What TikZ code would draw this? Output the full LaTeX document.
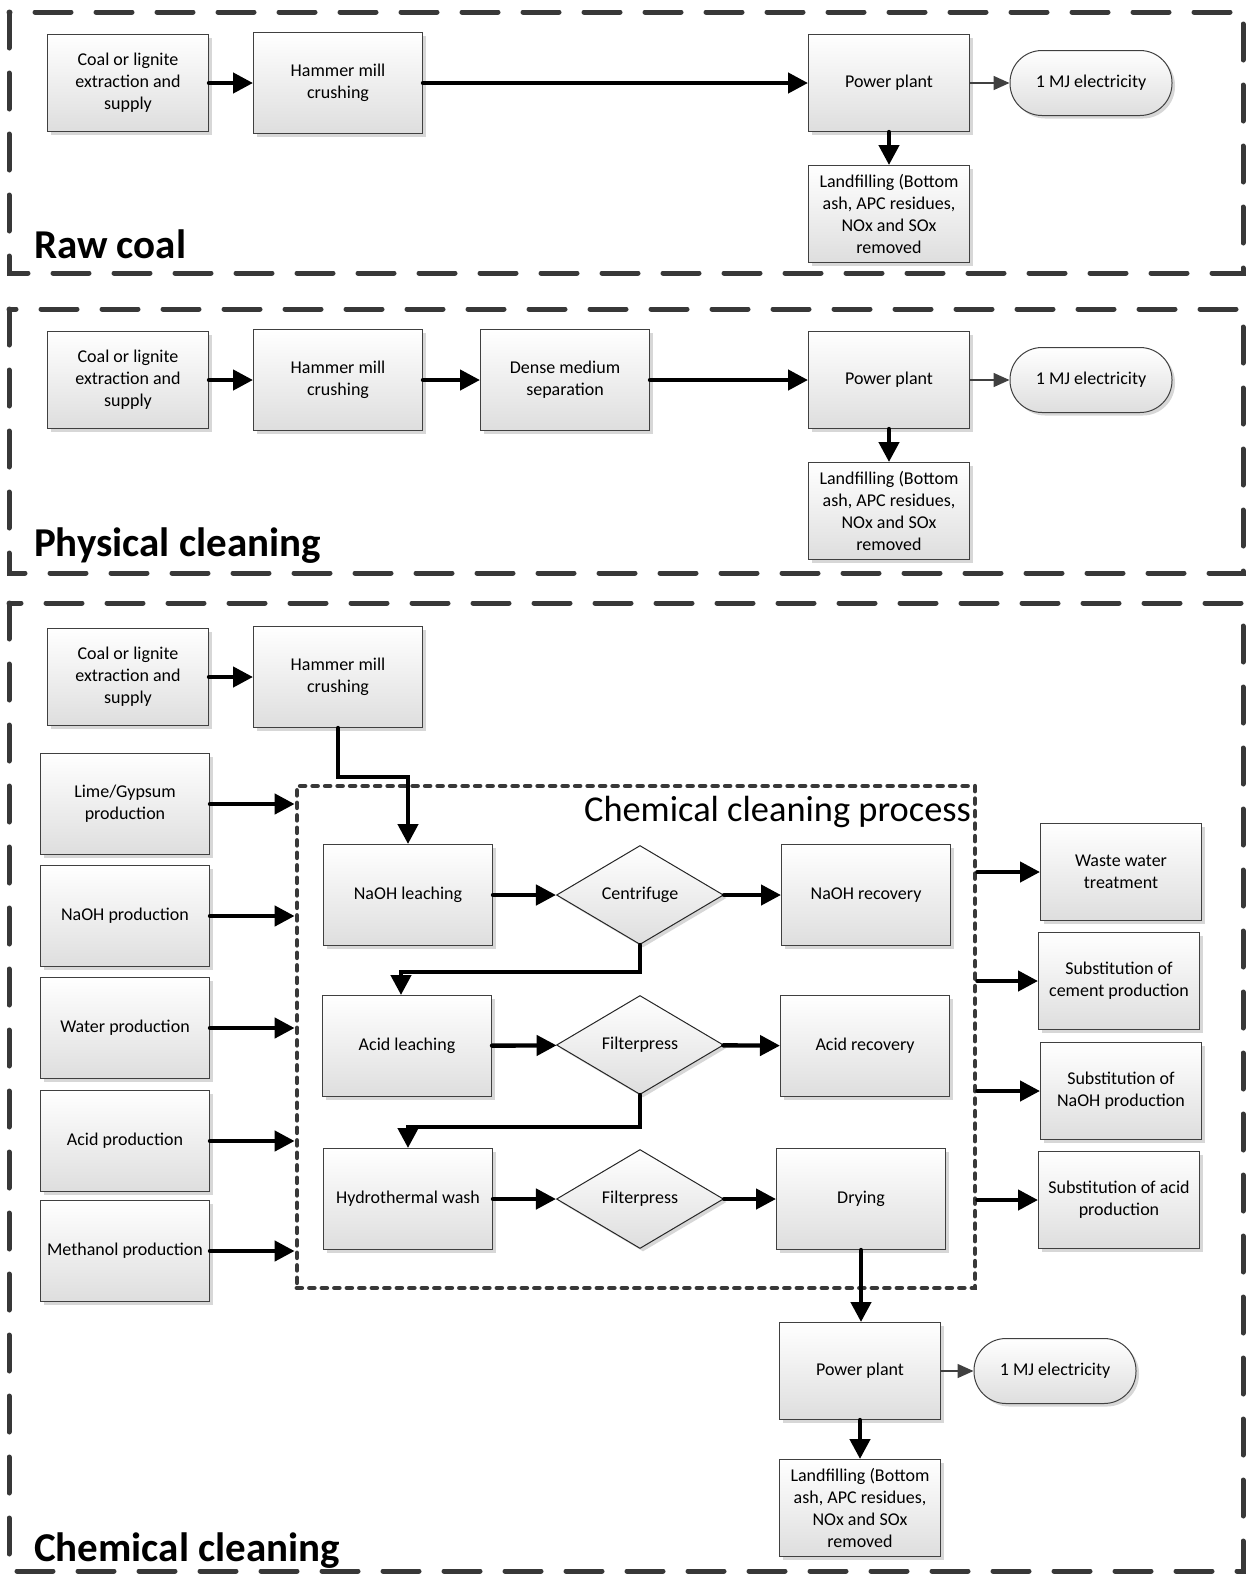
\documentclass[tikz,border=0pt]{standalone}
\usepackage{fontspec}
\setmainfont{Carlito}
\usetikzlibrary{arrows.meta, calc, positioning, shapes.geometric, shadows}

\begin{document}
\begin{tikzpicture}[x=0.5pt, y=-0.5pt,% one unit = one pixel, y grows downwards
           > = {Triangle[length=10pt, width=10pt]},
    box/.style = {draw=black!75, line width=0.5pt,
                  top color=white, bottom color=black!13,
                  drop shadow={shadow xshift=1.5pt, shadow yshift=-1.5pt,
                               fill=black!35, opacity=0.45},
                  minimum width=80.5pt, minimum height=48.5pt,
                  inner sep=1pt, align=center,
                  font=\fontsize{9}{11}\selectfont},
   wbox/.style = {box, minimum width=84.5pt, minimum height=50.5pt},
  check/.style = {box, diamond, draw=black!85, inner sep=0pt, shape aspect=1.7,
                  minimum width=83.5pt, minimum height=49.5pt},
   term/.style = {box, rounded corners=16pt,
                  minimum width=81pt, minimum height=32.5pt},
   flow/.style = {draw, ->, line width=2.2pt, line cap=round},
   slim/.style = {draw=black!75, line width=0.8pt,
                  -{Triangle[length=8pt, width=7pt]}},
  stage/.style = {draw=black!78, line width=2.5pt, line cap=round,
                  dash pattern=on 18pt off 12.5pt},
  inner/.style = {draw=black!78, line width=2.4pt, line cap=round,
                  dash pattern=on 2.4pt off 3.85pt},
  title/.style = {anchor=base west, font=\fontsize{20.5}{24}\selectfont\bfseries}
                    ]
	\useasboundingbox (0,0) rectangle (1248,1576);

	% outer frames
	\draw[stage] (9,12) rectangle (1243,273);
	\draw[stage] (9,309) rectangle (1243,573);
	\draw[stage] (9,603) rectangle (1243,1571);

	\node[title] (t1) at (27,258) {Raw coal};
	\node[title] (t2) at (27,556) {Physical cleaning};
	\node[title] (t3) at (27,1561) {Chemical cleaning};

	% raw coal
	\node[box]  (coal1)   at (128,83)  {Coal or lignite\\extraction and\\supply};
	\node[wbox] (hammer1) at (338,83)  {Hammer mill\\crushing};
	\node[box]  (power1)  at (889,83)  {Power plant};
	\node[term] (elec1)   at (1091,83) {1 MJ electricity};
	\node[box]  (land1)   at (889,214) {Landfilling (Bottom\\ash, APC residues,\\NOx and SOx\\removed};

	\draw[flow] (coal1) -- (hammer1);
	\draw[flow] (hammer1) -- (power1);
	\draw[slim] (power1) -- (elec1);
	\draw[flow] (power1) -- (land1);

	% physical cleaning
	\node[box]  (coal2)   at (128,380)  {Coal or lignite\\extraction and\\supply};
	\node[wbox] (hammer2) at (338,380)  {Hammer mill\\crushing};
	\node[wbox] (dense)   at (565,380)  {Dense medium\\separation};
	\node[box]  (power2)  at (889,380)  {Power plant};
	\node[term] (elec2)   at (1091,380) {1 MJ electricity};
	\node[box]  (land2)   at (889,511)  {Landfilling (Bottom\\ash, APC residues,\\NOx and SOx\\removed};

	\draw[flow] (coal2) -- (hammer2);
	\draw[flow] (hammer2) -- (dense);
	\draw[flow] (dense) -- (power2);
	\draw[slim] (power2) -- (elec2);
	\draw[flow] (power2) -- (land2);

	% chemical cleaning
	\node[inner, minimum width=339pt, minimum height=251pt] (proc) at (636,1037) {};
	\node[anchor=base east, font=\fontsize{18.2}{22}\selectfont] (proctitle) at (978,821) {Chemical cleaning process};

	\node[box]  (coal3)   at (128,677) {Coal or lignite\\extraction and\\supply};
	\node[wbox] (hammer3) at (338,677) {Hammer mill\\crushing};

	\node[wbox] (lime)     at (125,804)  {Lime/Gypsum\\production};
	\node[wbox] (naohprod) at (125,916)  {NaOH production};
	\node[wbox] (water)    at (125,1028) {Water production};
	\node[wbox] (acidprod) at (125,1141) {Acid production};
	\node[wbox] (methanol) at (125,1251) {Methanol production};

	\node[wbox]  (naohleach)  at (408,895)  {NaOH leaching};
	\node[check] (centrifuge) at (640,895)  {Centrifuge};
	\node[wbox]  (naohrec)    at (866,895)  {NaOH recovery};
	\node[wbox]  (acidleach)  at (407,1046) {Acid leaching};
	\node[check] (press1)     at (640,1045) {Filterpress};
	\node[wbox]  (acidrec)    at (865,1046) {Acid recovery};
	\node[wbox]  (hydro)      at (408,1199) {Hydrothermal wash};
	\node[check] (press2)     at (640,1199) {Filterpress};
	\node[wbox]  (drying)     at (861,1199) {Drying};

	\node[box] (waste)   at (1121,872)  {Waste water\\treatment};
	\node[box] (cement)  at (1119,981)  {Substitution of\\cement production};
	\node[box] (subnaoh) at (1121,1091) {Substitution of\\NaOH production};
	\node[box] (subacid) at (1119,1200) {Substitution of acid\\production};

	\node[box]  (power3) at (860,1371)  {Power plant};
	\node[term] (elec3)  at (1055,1371) {1 MJ electricity};
	\node[box]  (land3)  at (860,1508)  {Landfilling (Bottom\\ash, APC residues,\\NOx and SOx\\removed};

	\draw[flow] (coal3) -- (hammer3);
	\draw[flow] (hammer3.south) -- ++(0,49) -| (naohleach.north);

	\foreach \src in {lime, naohprod, water, acidprod, methanol}
		\draw[flow] (\src) -- (\src -| proc.west);
	\foreach \dst in {waste, cement, subnaoh, subacid}
		\draw[flow] (\dst -| proc.east) -- (\dst);

	\draw[flow] (naohleach) -- (centrifuge);
	\draw[flow] (centrifuge) -- (naohrec);
	\draw[flow] (acidleach) -- (press1);
	\draw[flow] (press1) -- (acidrec);
	\draw[flow] (hydro) -- (press2);
	\draw[flow] (press2) -- (drying);

	\draw[flow] (centrifuge.south) -- ++(0,27) -| ([xshift=-3pt]acidleach.north);
	\draw[flow] (press1.south) -- ++(0,32) -| (hydro.north);
	\draw[flow] (drying.south) -- (drying.south |- power3.north);
	\draw[slim] (power3) -- (elec3);
	\draw[flow] (power3) -- (land3);
\end{tikzpicture}
\end{document}
